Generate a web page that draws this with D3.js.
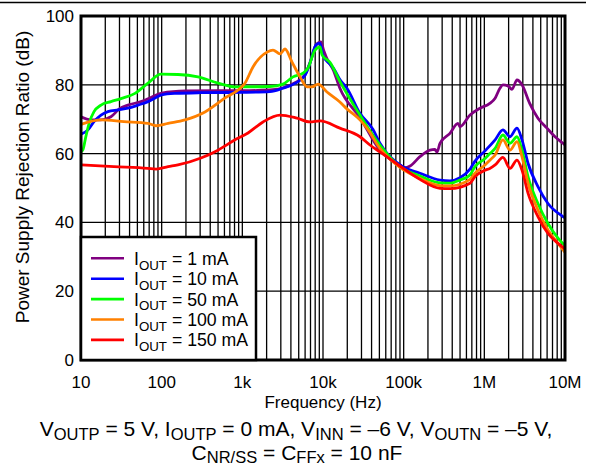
<!DOCTYPE html>
<html>
<head>
<meta charset="utf-8">
<script src="https://cdn.jsdelivr.net/npm/d3@7"></script>
<style>
    body { margin: 0; background: #fff; }
    svg text { font-family: "Liberation Sans", Arial, sans-serif; fill: #000; }
</style>
</head>
<body>
<div class="chart"></div>
<script>
// PSRR vs frequency, one series per load current  [Hz, dB]
var seriesNames = ['1 mA', '10 mA', '50 mA', '100 mA', '150 mA'];
var seriesColors = ['#800080', '#0000ff', '#00ff00', '#ff8000', '#ff0000'];

var psrr1mA = [[10, 70.7], [13.3, 69.8], [17.7, 69.8], [23.5, 70.7], [29.6, 72.9], [38.2, 74.1], [55.5, 75.1], [67.7, 75.9],
    [100, 77.6], [200, 78.2], [500, 78.3], [1000, 78.3], [2200, 78.5], [3400, 79.3], [4500, 80.6], [6000, 83], [6900, 86.5],
    [8200, 91.6], [9400, 92.5], [10200, 90], [11500, 87], [13300, 84.5], [16200, 79], [28700, 70.5], [50800, 61],
    [70000, 58.1], [90000, 56.7], [104000, 55.9], [120000, 56.4], [159000, 59.1], [212000, 61], [244000, 61.2],
    [259000, 60.4], [282000, 63], [375000, 65.9], [471000, 68.8], [499000, 67.8], [664000, 71.2], [884000, 73.2],
    [1.17e6, 74.6], [1.36e6, 76.1], [1.56e6, 79], [1.7e6, 80], [1.96e6, 79.7], [2.2e6, 78.7], [2.54e6, 81.4], [2.93e6, 80],
    [3.65e6, 74.6], [4.62e6, 70.3], [5.98e6, 67.4], [7.52e6, 64.9], [9.44e6, 63], [1e7, 62.5]];

var psrr10mA = [[10, 65.6], [12.2, 66.9], [14.5, 69.3], [17.7, 71.2], [21.6, 72.2], [28.8, 72.7], [38.2, 73.2], [50.9, 74.1],
    [67.7, 75.1], [85, 76.3], [100, 77.1], [150, 77.5], [300, 77.7], [1000, 77.8], [2200, 78], [3190, 79], [4500, 80.4],
    [5990, 82.8], [6900, 86.3], [8190, 91.6], [9180, 92.1], [10000, 88.5], [12200, 86], [13300, 85], [16200, 81.5],
    [19800, 79], [28700, 71.7], [41700, 67], [50800, 63], [90000, 56.7], [159000, 54.3], [282000, 52.3], [375000, 52.1],
    [499000, 53], [664000, 55.5], [766000, 57.8], [1.02e6, 60.8], [1.36e6, 64], [1.7e6, 66.9], [2.08e6, 64.9],
    [2.54e6, 67.4], [2.93e6, 64], [3.48e6, 57.2], [4.62e6, 50.4], [6.15e6, 45.5], [9.44e6, 41.7], [1e7, 41.3]];

var psrr50mA = [[10, 60.5], [10.6, 61.2], [11.5, 65], [12.6, 68.8], [14.5, 72.2], [17.7, 74.1], [23.5, 75.1], [31.3, 76],
    [46.7, 77.5], [67.7, 80.5], [98, 83.1], [159, 83], [282, 82.3], [499, 80.5], [811, 79.4], [2200, 79.5], [3190, 80.2],
    [4250, 82.3], [5650, 83.4], [6520, 84.9], [7960, 90.1], [9180, 91], [9730, 88.7], [12200, 86.5], [16200, 81],
    [28700, 71.2], [50800, 62.5], [90000, 56.2], [159000, 53.5], [282000, 51.5], [375000, 51.4], [499000, 52.3],
    [664000, 53.8], [766000, 56.2], [1.02e6, 58.6], [1.17e6, 60], [1.36e6, 61.5], [1.7e6, 65.4], [2.08e6, 63],
    [2.54e6, 64.9], [2.93e6, 61], [3.48e6, 53.3], [4.62e6, 45.5], [6.15e6, 39.7], [8.19e6, 35.4], [1e7, 33.2]];

var psrr100mA = [[10, 68.5], [17.7, 69.8], [34.1, 69.3], [67.7, 68.8], [85.1, 68.1], [120, 68.8], [195, 69.8], [344, 72.1],
    [610, 76.2], [1080, 80.5], [1356, 85.2], [2023, 89.5], [2400, 90.1], [2930, 89], [3380, 90.4], [4130, 86.6],
    [5190, 82.3], [6340, 79.4], [7310, 79.4], [8670, 80.2], [11200, 77.9], [16200, 75], [19800, 73], [28700, 69.8],
    [35100, 67.4], [50800, 61.5], [90000, 56], [159000, 52.8], [282000, 50.7], [375000, 50.6], [664000, 52.5],
    [766000, 54.3], [1.02e6, 56.7], [1.17e6, 58.1], [1.36e6, 59.6], [1.7e6, 64], [2.08e6, 61], [2.54e6, 63.5],
    [2.93e6, 59.1], [3.48e6, 51.4], [4.62e6, 43.6], [6.15e6, 37.8], [8.19e6, 33.9], [1e7, 31.3]];

var psrr150mA = [[10, 56.7], [25.6, 56.2], [67.7, 55.7], [85.1, 55.5], [120, 56.2], [159, 56.7], [307, 58.7], [499, 61],
    [811, 64], [1176, 66], [1804, 69.2], [2930, 71.2], [4760, 70.3], [6900, 69.2], [9180, 69.5], [16200, 67.4],
    [28700, 64.9], [38200, 62.5], [50800, 60.5], [90000, 56.4], [159000, 52.5], [282000, 49.9], [375000, 49.8],
    [664000, 51.4], [766000, 53.3], [1.02e6, 55.2], [1.17e6, 55.7], [1.36e6, 56.7], [1.7e6, 58.9], [2.08e6, 55.7],
    [2.54e6, 58.1], [2.93e6, 55.2], [3.48e6, 48.5], [4.62e6, 41.7], [6.15e6, 36.8], [8.19e6, 33.9], [1e7, 32.3]];

var xTickValues = [10, 100, 1e3, 1e4, 1e5, 1e6, 1e7];
var xTickLabels = ['10', '100', '1k', '10k', '100k', '1M', '10M'];
var yTickValues = [0, 20, 40, 60, 80, 100];

var allSeries = [psrr1mA, psrr10mA, psrr50mA, psrr100mA, psrr150mA];

(function () {
    var width = 590, height = 466;
    var plotLeft = 81, plotRight = 565, plotTop = 16, plotBottom = 360;

    var svg = d3.select('.chart').append('svg')
        .attr('width', width)
        .attr('height', height);

    var x = d3.scaleLog().domain([10, 1e7]).range([plotLeft, plotRight]);
    var y = d3.scaleLinear().domain([0, 100]).range([plotBottom, plotTop]);

    /* rule across the top */
    svg.append('line')
        .attr('x1', 0).attr('x2', 586)
        .attr('y1', 2.5).attr('y2', 2.5)
        .attr('stroke', '#000').attr('stroke-width', 1.5);

    /* grid */
    var grid = svg.append('g');
    grid.selectAll('line.vx')
        .data(x.ticks())
        .enter().append('line')
        .attr('class', 'vx')
        .attr('x1', function (d) { return x(d); })
        .attr('x2', function (d) { return x(d); })
        .attr('y1', plotTop).attr('y2', plotBottom)
        .attr('stroke', '#000').attr('stroke-width', 1.3);

    grid.selectAll('line.hy')
        .data(yTickValues.slice(1, -1))
        .enter().append('line')
        .attr('class', 'hy')
        .attr('x1', plotLeft).attr('x2', plotRight)
        .attr('y1', function (d) { return y(d); })
        .attr('y2', function (d) { return y(d); })
        .attr('stroke', '#000').attr('stroke-width', 1.3);

    /* curves */
    var line = d3.line()
        .x(function (d) { return x(d[0]); })
        .y(function (d) { return y(d[1]); })
        .curve(d3.curveMonotoneX);

    svg.append('g').selectAll('path')
        .data(allSeries)
        .enter().append('path')
        .attr('d', line)
        .attr('fill', 'none')
        .attr('stroke', function (d, i) { return seriesColors[i]; })
        .attr('stroke-width', 2.8)
        .attr('stroke-linejoin', 'round');

    /* frame */
    svg.append('rect')
        .attr('x', plotLeft).attr('y', plotTop)
        .attr('width', plotRight - plotLeft).attr('height', plotBottom - plotTop)
        .attr('fill', 'none').attr('stroke', '#000').attr('stroke-width', 3);

    /* axis labels */
    svg.append('g').selectAll('text')
        .data(yTickValues)
        .enter().append('text')
        .attr('x', 74)
        .attr('y', function (d) { return y(d) + 6; })
        .attr('text-anchor', 'end')
        .style('font-size', '17px')
        .text(function (d) { return d; });

    svg.append('g').selectAll('text')
        .data(xTickValues)
        .enter().append('text')
        .attr('x', function (d) { return x(d); })
        .attr('y', 388)
        .attr('text-anchor', 'middle')
        .style('font-size', '17px')
        .text(function (d, i) { return xTickLabels[i]; });

    svg.append('text')
        .attr('x', (plotLeft + plotRight) / 2)
        .attr('y', 408)
        .attr('text-anchor', 'middle')
        .style('font-size', '17px')
        .text('Frequency (Hz)');

    svg.append('text')
        .attr('transform', 'translate(29,' + ((plotTop + plotBottom) / 2 - 11) + ') rotate(-90)')
        .attr('text-anchor', 'middle')
        .style('font-size', '19px')
        .text('Power Supply Rejection Ratio (dB)');

    /**
     * text with subscripts, parts = [[str, isSub], ...]
     */
    function richText(parent, px, py, parts, size, subSize, shift) {
        var t = parent.append('text')
            .attr('x', px).attr('y', py)
            .style('font-size', size + 'px');
        var shifted = false;
        parts.forEach(function (p) {
            var dy = 0;
            if (p[1] && !shifted) { dy = shift; shifted = true; }
            else if (!p[1] && shifted) { dy = -shift; shifted = false; }
            t.append('tspan')
                .attr('dy', dy)
                .style('font-size', (p[1] ? subSize : size) + 'px')
                .text(p[0]);
        });
        return t;
    }

    /* legend */
    var legend = svg.append('g');
    legend.append('rect')
        .attr('x', plotLeft).attr('y', 237)
        .attr('width', 175).attr('height', plotBottom - 237)
        .attr('fill', '#fff').attr('stroke', '#000').attr('stroke-width', 2.5);

    seriesNames.forEach(function (name, i) {
        var ly = 258.3 + i * 20.4;
        legend.append('line')
            .attr('x1', 91).attr('x2', 124)
            .attr('y1', ly).attr('y2', ly)
            .attr('stroke', seriesColors[i]).attr('stroke-width', 2.6);
        richText(legend, 134, ly + 6.5, [['I', false], ['OUT', true], [' = ' + name, false]], 17.7, 13.3, 4.8);
    });

    /* test conditions */
    richText(svg, 296, 436, [['V', false], ['OUTP', true], [' = 5 V, I', false], ['OUTP', true],
        [' = 0 mA, V', false], ['INN', true], [' = \u20136 V, V', false], ['OUTN', true], [' = \u20135 V,', false]], 21, 16.5, 3.6)
        .attr('text-anchor', 'middle');
    richText(svg, 297, 459.5, [['C', false], ['NR/SS', true], [' = C', false], ['FFx', true], [' = 10 nF', false]], 21, 16.5, 3.6)
        .attr('text-anchor', 'middle');
})();
</script>
</body>
</html>
